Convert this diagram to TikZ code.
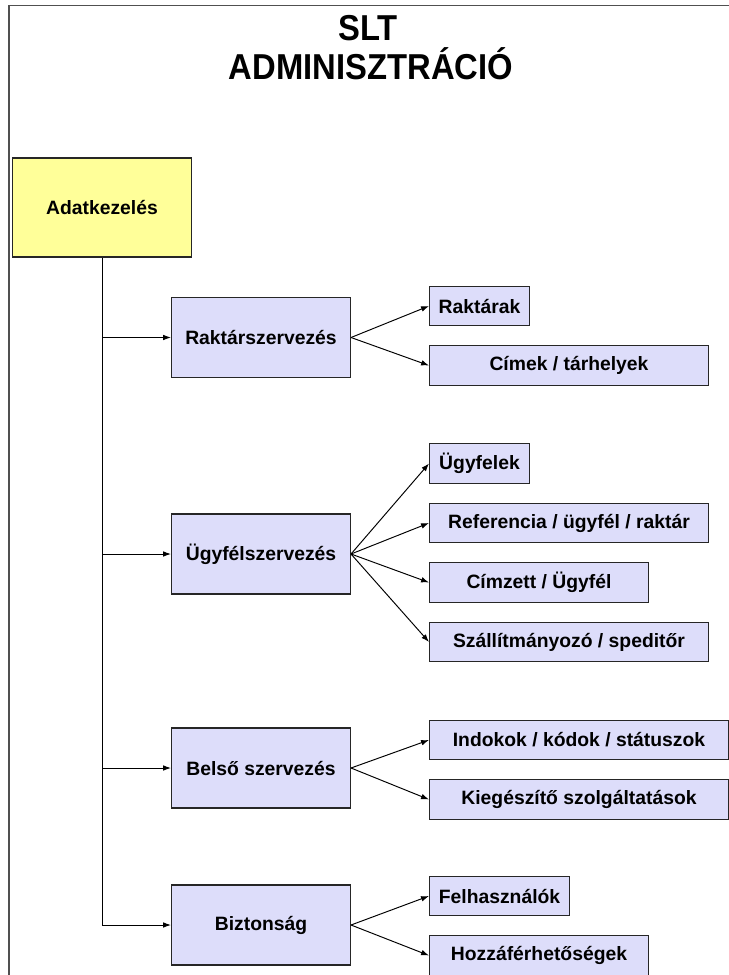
\documentclass[tikz,border=0pt]{standalone}
\usepackage{fontspec}
\setmainfont{Liberation Sans}
\usepackage{tikz}
\usetikzlibrary{arrows.meta}
\definecolor{lila}{RGB}{221,221,250}
\definecolor{sarga}{RGB}{255,255,153}
\definecolor{keret}{RGB}{80,80,80}

\begin{document}
\begin{tikzpicture}[x=0.02cm,y=-0.02cm,
  doboz/.style={draw=black!85,line width=0.6pt,fill=lila,inner sep=0pt,
    font=\fontsize{11}{13}\selectfont\bfseries},
  fo/.style={doboz,minimum width=3.58cm,minimum height=1.6cm},
  al/.style={doboz,anchor=west,minimum height=0.79cm},
  cim/.style={anchor=base,inner sep=0pt,font=\fontsize{20.5}{24}\selectfont\bfseries},
  nyil/.style={-{Latex[length=4.5pt,width=3.2pt]},line width=0.55pt}]
\useasboundingbox (0,0) rectangle (729,975);
\draw[keret,line width=0.9pt] (9,990) -- (9,5.5) -- (740,5.5);

\node[cim] (slt) at (368,40) {\scalebox{0.91}[1]{SLT}};
\node[cim] (adm) at (371,79) {\scalebox{0.91}[1]{ADMINISZTRÁCIÓ}};

\node[fo,fill=sarga,minimum height=1.98cm] (adat) at (102,207.5) {Adatkezelés};

\node[fo] (rakt) at (261,337.5) {Raktárszervezés};
\node[fo] (ugyf) at (261,554) {Ügyfélszervezés};
\node[fo] (bels) at (261,768) {Belső szervezés};
\node[fo] (bizt) at (261,925) {Biztonság};

\node[al,minimum width=2cm] (raktarak) at (429,306) {Raktárak};
\node[al,minimum width=5.58cm] (cimek) at (429,365.5) {Címek / tárhelyek};

\node[al,minimum width=2cm] (ugyfelek) at (429,463.5) {Ügyfelek};
\node[al,minimum width=5.58cm] (refer) at (429,523) {Referencia / ügyfél / raktár};
\node[al,minimum width=4.38cm] (cimzett) at (429,582.5) {Címzett / Ügyfél};
\node[al,minimum width=5.58cm] (szall) at (429,642) {Szállítmányozó / speditőr};

\node[al,minimum width=5.98cm] (indok) at (429,740) {Indokok / kódok / státuszok};
\node[al,minimum width=5.98cm] (kieg) at (429,799.5) {Kiegészítő szolgáltatások};

\node[al,minimum width=2.8cm] (felh) at (429,896) {Felhasználók};
\node[al,minimum width=4.38cm] (hozza) at (429,955.5) {Hozzáférhetőségek};

\draw[line width=0.55pt] (adat.south) -- (adat.south |- bizt.west);
\foreach \m in {rakt,ugyf,bels,bizt}
  \draw[nyil] (adat.south |- \m.west) -- (\m.west);

\foreach \a/\b in {rakt/raktarak,rakt/cimek,ugyf/ugyfelek,ugyf/refer,ugyf/cimzett,
  ugyf/szall,bels/indok,bels/kieg,bizt/felh,bizt/hozza}
  \draw[nyil] (\a.east) -- (\b.west);
\end{tikzpicture}
\end{document}
